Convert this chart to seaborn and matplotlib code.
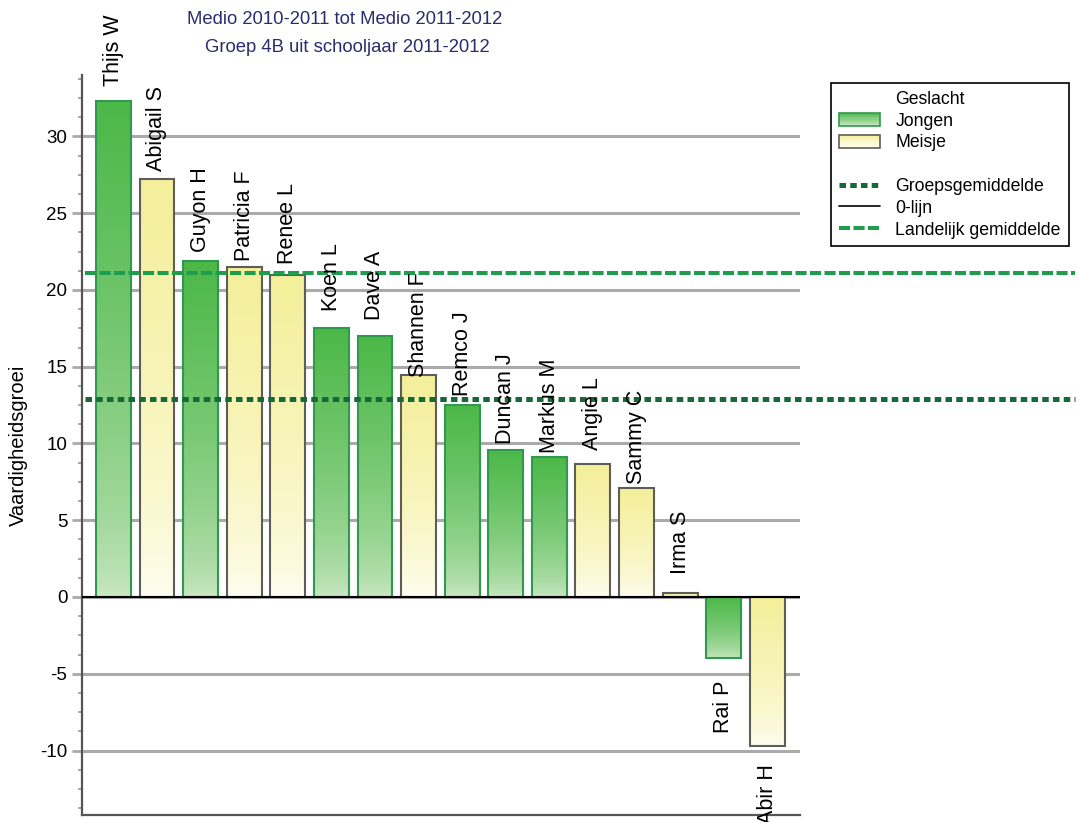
import numpy as np
import pandas as pd
import matplotlib
matplotlib.use("Agg")
import matplotlib.pyplot as plt
import seaborn as sns
from matplotlib.colors import to_rgb
from matplotlib.patches import Rectangle
from matplotlib.lines import Line2D
from matplotlib.legend_handler import HandlerBase
from matplotlib.ticker import MultipleLocator

# Pupils, their skill growth and gender
names = ["Thijs W", "Abigail S", "Guyon H", "Patricia F", "Renee L", "Koen L",
         "Dave A", "Shannen F", "Remco J", "Duncan J", "Markus M", "Angie L",
         "Sammy C", "Irma S", "Rai P", "Abir H"]
growth = [32.3, 27.2, 21.9, 21.5, 21.0, 17.5, 17.0, 14.45, 12.5, 9.6, 9.1,
          8.65, 7.1, 0.25, -4.0, -9.7]
gender = ["Jongen", "Meisje", "Jongen", "Meisje", "Meisje", "Jongen",
          "Jongen", "Meisje", "Jongen", "Jongen", "Jongen", "Meisje",
          "Meisje", "Meisje", "Jongen", "Meisje"]
national_mean = 21.1
group_mean = float(np.mean(growth))

title_lines = ["Medio 2010-2011 tot Medio 2011-2012",
               "Groep 4B uit schooljaar 2011-2012"]

# gradient colours per gender: (top, bottom, edge)
styles = {
    "Jongen": ("#4cb848", "#cfe9c8", "#2f9a4f"),
    "Meisje": ("#f4ef9a", "#fffef6", "#5e5e58"),
}

sns.set_style("white")
plt.rcParams["font.family"] = ["Liberation Sans", "DejaVu Sans"]
plt.rcParams["axes.unicode_minus"] = False
plt.rcParams["text.color"] = "black"
plt.rcParams["axes.labelcolor"] = "black"
plt.rcParams["ytick.labelcolor"] = "black"

W, H = 1079, 822
fig = plt.figure(figsize=(W / 100, H / 100), dpi=100)
ax = fig.add_axes([82 / W, 1 - 815 / H, (800 - 82) / W, (815 - 75) / H])

df = pd.DataFrame({"Leerling": names, "Groei": growth, "Geslacht": gender})
sns.barplot(data=df, x="Leerling", y="Groei", hue="Geslacht",
            order=names, hue_order=["Jongen", "Meisje"],
            palette={k: v[0] for k, v in styles.items()},
            dodge=False, width=0.8, legend=False, ax=ax)

# replace flat fills with vertical gradients (dark at the top, light at the bottom)
t = (np.linspace(0, 1, 256) ** 0.6)[:, None, None]
for p in list(ax.patches):
    x0, w = p.get_x(), p.get_width()
    y0, h = p.get_y(), p.get_height()
    idx = int(round(x0 + w / 2))
    top, bottom, edge = styles[gender[idx]]
    top, bottom = np.array(to_rgb(top)), np.array(to_rgb(bottom))
    img = bottom * (1 - t) + top * t
    ylo, yhi = min(y0, y0 + h), max(y0, y0 + h)
    im = ax.imshow(img, extent=[x0, x0 + w, ylo, yhi], origin="lower",
                   aspect="auto", interpolation="bilinear", zorder=1.5)
    im.set_clip_path(p)
    p.set_facecolor("none")
    p.set_edgecolor(edge)
    p.set_linewidth(1.5)
    p.set_zorder(2)

# name labels above / below each bar
for i, (n, v) in enumerate(zip(names, growth)):
    ax.annotate(n, xy=(i, v), xytext=(0, 51 if v >= 0 else -48),
                textcoords="offset pixels", rotation=90, ha="center",
                va="center", fontsize=15.5, color="black",
                annotation_clip=False, zorder=5)

ax.set_xlim(-0.72, 15.75)
ax.set_ylim(-14.2, 34)

# reference lines
ax.axhline(0, color="black", lw=1.5, zorder=3)
xmax_ext = (1075 - 82) / (800 - 82)
ax.axhline(national_mean, xmin=0.004, xmax=xmax_ext, color="#1f9c4c", lw=2.9,
           dashes=(2.75, 0.85), dash_capstyle="butt", clip_on=False, zorder=4)
ax.axhline(group_mean, xmin=0.004, xmax=xmax_ext, color="#17693a", lw=3.6,
           dashes=(1.3, 0.85), dash_capstyle="butt", clip_on=False, zorder=4)

# axes styling
ax.yaxis.set_major_locator(MultipleLocator(5))
ax.yaxis.set_minor_locator(MultipleLocator(1.25))
ax.yaxis.grid(True, which="major", color="#aaaaaa", lw=2.2)
ax.xaxis.grid(False)
ax.set_axisbelow(True)
ax.tick_params(axis="y", which="major", left=True, length=7, width=2,
               color="#aaaaaa", labelcolor="black", labelsize=13.5, pad=3.5,
               direction="out")
ax.tick_params(axis="y", which="minor", left=True, length=3, width=1.5,
               color="#aaaaaa", direction="out")
ax.tick_params(axis="x", bottom=False, labelbottom=False)
ax.set_xlabel("")
ax.set_ylabel("Vaardigheidsgroei", fontsize=14.5, labelpad=9, color="black")
for s in ("top", "right"):
    ax.spines[s].set_visible(False)
for s in ("left", "bottom"):
    ax.spines[s].set_color("#555555")
    ax.spines[s].set_linewidth(1.6)

# titles
fig.text(345 / W, 1 - 20 / H, title_lines[0], ha="center", va="center",
         fontsize=13.3, color="#2b2b6e")
fig.text(347 / W, 1 - 47 / H, title_lines[1], ha="center", va="center",
         fontsize=13.3, color="#2b2b6e")


class GradientPatchHandler(HandlerBase):
    def __init__(self, top, bottom, edge, steps=12):
        super().__init__()
        self.top = np.array(to_rgb(top))
        self.bottom = np.array(to_rgb(bottom))
        self.edge = edge
        self.steps = steps

    def create_artists(self, legend, orig_handle, xdescent, ydescent,
                       width, height, fontsize, trans):
        arts = []
        for k in range(self.steps):
            f = (k + 0.5) / self.steps
            c = self.bottom * (1 - f) + self.top * f
            arts.append(Rectangle((-xdescent, -ydescent + height * k / self.steps),
                                  width, height / self.steps * 1.05,
                                  facecolor=c, edgecolor="none", transform=trans))
        arts.append(Rectangle((-xdescent, -ydescent), width, height,
                              facecolor="none", edgecolor=self.edge, lw=1.2,
                              transform=trans))
        return arts


blank1 = Line2D([], [], linestyle="none")
blank2 = Line2D([], [], linestyle="none")
h_boy = Rectangle((0, 0), 1, 1)
h_girl = Rectangle((0, 0), 1, 1)
h_group = Line2D([], [], color="#17693a", lw=3.6, dashes=(1.3, 0.85),
                 dash_capstyle="butt")
h_zero = Line2D([], [], color="black", lw=1.2)
h_nat = Line2D([], [], color="#1f9c4c", lw=2.9, dashes=(2.75, 0.85),
               dash_capstyle="butt")
handles = [blank1, h_boy, h_girl, blank2, h_group, h_zero, h_nat]
labels = ["Geslacht", "Jongen", "Meisje", "", "Groepsgemiddelde", "0-lijn",
          "Landelijk gemiddelde"]
leg = fig.legend(handles, labels,
                 handler_map={h_boy: GradientPatchHandler(*styles["Jongen"]),
                              h_girl: GradientPatchHandler(*styles["Meisje"])},
                 loc="upper left", bbox_to_anchor=(831 / W, 1 - 83 / H),
                 frameon=True, fancybox=False, edgecolor="black", framealpha=1,
                 fontsize=12.7, handlelength=2.3, handleheight=0.75,
                 handletextpad=0.9, borderpad=0.45, labelspacing=0.27,
                 borderaxespad=0, labelcolor="black")
leg.get_frame().set_linewidth(1.2)

fig.savefig("out.png", dpi=100)
